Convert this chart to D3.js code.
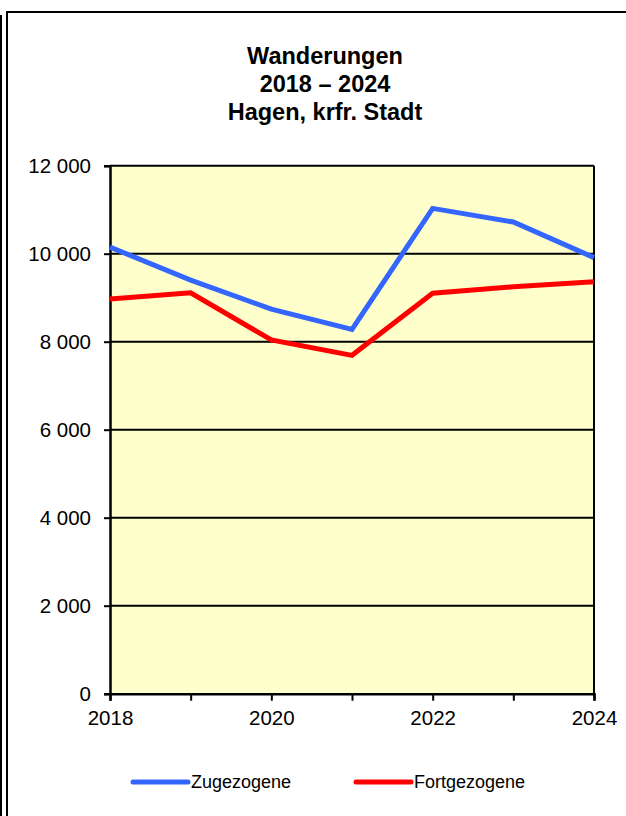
<!DOCTYPE html>
<html>
<head>
<meta charset="utf-8">
<script src="https://cdn.jsdelivr.net/npm/d3@7"></script>
<style>
  html, body { margin: 0; padding: 0; background: #fff; }
  svg { display: block; }
  text { font-family: "Liberation Sans", Arial, sans-serif; fill: #000; }
</style>
</head>
<body>
<svg id="chart" width="626" height="816"></svg>
<script>
const titleLines = ["Wanderungen", "2018 \u2013 2024", "Hagen, krfr. Stadt"];
const years = [2018, 2019, 2020, 2021, 2022, 2023, 2024];
const zugezogene = [10150, 9400, 8740, 8280, 11030, 10720, 9910];
const fortgezogene = [8970, 9110, 8040, 7690, 9100, 9250, 9360];
const yTicks = [0, 2000, 4000, 6000, 8000, 10000, 12000];
const xTickLabels = [2018, 2020, 2022, 2024];
const seriesNames = ["Zugezogene", "Fortgezogene"];
const seriesColors = ["#3366FF", "#FF0000"];

const svg = d3.select("#chart");

// frame
svg.append("rect").attr("x", 0).attr("y", 15).attr("width", 2).attr("height", 801).attr("fill", "#000");
svg.append("path").attr("d", "M7,830 L7,12 L640,12").attr("fill", "none").attr("stroke", "#000").attr("stroke-width", 2);

const x = d3.scaleLinear().domain([2018, 2024]).range([110, 594]);
const y = d3.scaleLinear().domain([0, 12000]).range([693.7, 165.7]);

// plot background
svg.append("rect")
  .attr("x", x(2018)).attr("y", y(12000))
  .attr("width", x(2024) - x(2018)).attr("height", y(0) - y(12000))
  .attr("fill", "#FFFFCC");

// gridlines
svg.append("g").selectAll("line").data(yTicks.filter(d => d > 0)).join("line")
  .attr("x1", x(2018)).attr("x2", x(2024))
  .attr("y1", d => y(d)).attr("y2", d => y(d))
  .attr("stroke", "#000").attr("stroke-width", 2);

// right border
svg.append("line").attr("x1", x(2024)).attr("x2", x(2024))
  .attr("y1", y(12000)).attr("y2", y(0)).attr("stroke", "#000").attr("stroke-width", 2);

// y axis
const fmt = d => d3.format(",")(d).replace(/,/g, " ");
const yAxis = svg.append("g").attr("transform", `translate(${x(2018)},0)`)
  .call(d3.axisLeft(y).tickValues(yTicks).tickSize(6).tickPadding(13).tickFormat(fmt));
yAxis.select(".domain").attr("stroke", "#000").attr("stroke-width", 2.5);
yAxis.selectAll(".tick line").attr("stroke", "#000").attr("stroke-width", 2);
yAxis.selectAll(".tick text").style("font-size", "20.5px").attr("fill", "#000")
  .style("font-family", "'Liberation Sans', Arial, sans-serif");

// x axis
const xAxis = svg.append("g").attr("transform", `translate(0,${y(0)})`)
  .call(d3.axisBottom(x).tickValues(years).tickSize(7).tickPadding(10)
    .tickFormat(d => xTickLabels.includes(d) ? String(d) : ""));
xAxis.select(".domain").attr("stroke", "#000").attr("stroke-width", 2.5);
xAxis.selectAll(".tick line").attr("stroke", "#000").attr("stroke-width", 2);
xAxis.selectAll(".tick text").style("font-size", "20.5px").attr("fill", "#000")
  .style("font-family", "'Liberation Sans', Arial, sans-serif");

// lines
const line = d3.line().x((d, i) => x(years[i])).y(d => y(d));
[zugezogene, fortgezogene].forEach((s, i) => {
  svg.append("path").datum(s).attr("d", line)
    .attr("fill", "none").attr("stroke", seriesColors[i]).attr("stroke-width", 5)
    .attr("stroke-linejoin", "miter");
});

// title
svg.append("g").selectAll("text").data(titleLines).join("text")
  .attr("x", 325).attr("y", (d, i) => 64 + i * 28)
  .attr("text-anchor", "middle")
  .style("font-size", "23.5px").style("font-weight", "bold")
  .text(d => d);

// legend
const legendX = [133, 356];
const lg = svg.append("g").selectAll("g").data(seriesNames).join("g")
  .attr("transform", (d, i) => `translate(${legendX[i]},782)`);
lg.append("line").attr("x1", 0).attr("x2", 55).attr("y1", 0).attr("y2", 0)
  .attr("stroke", (d, i) => seriesColors[i]).attr("stroke-width", 5).attr("stroke-linecap", "round");
lg.append("text").attr("x", 58).attr("y", 6)
  .style("font-size", "18px").text(d => d);
</script>
</body>
</html>
